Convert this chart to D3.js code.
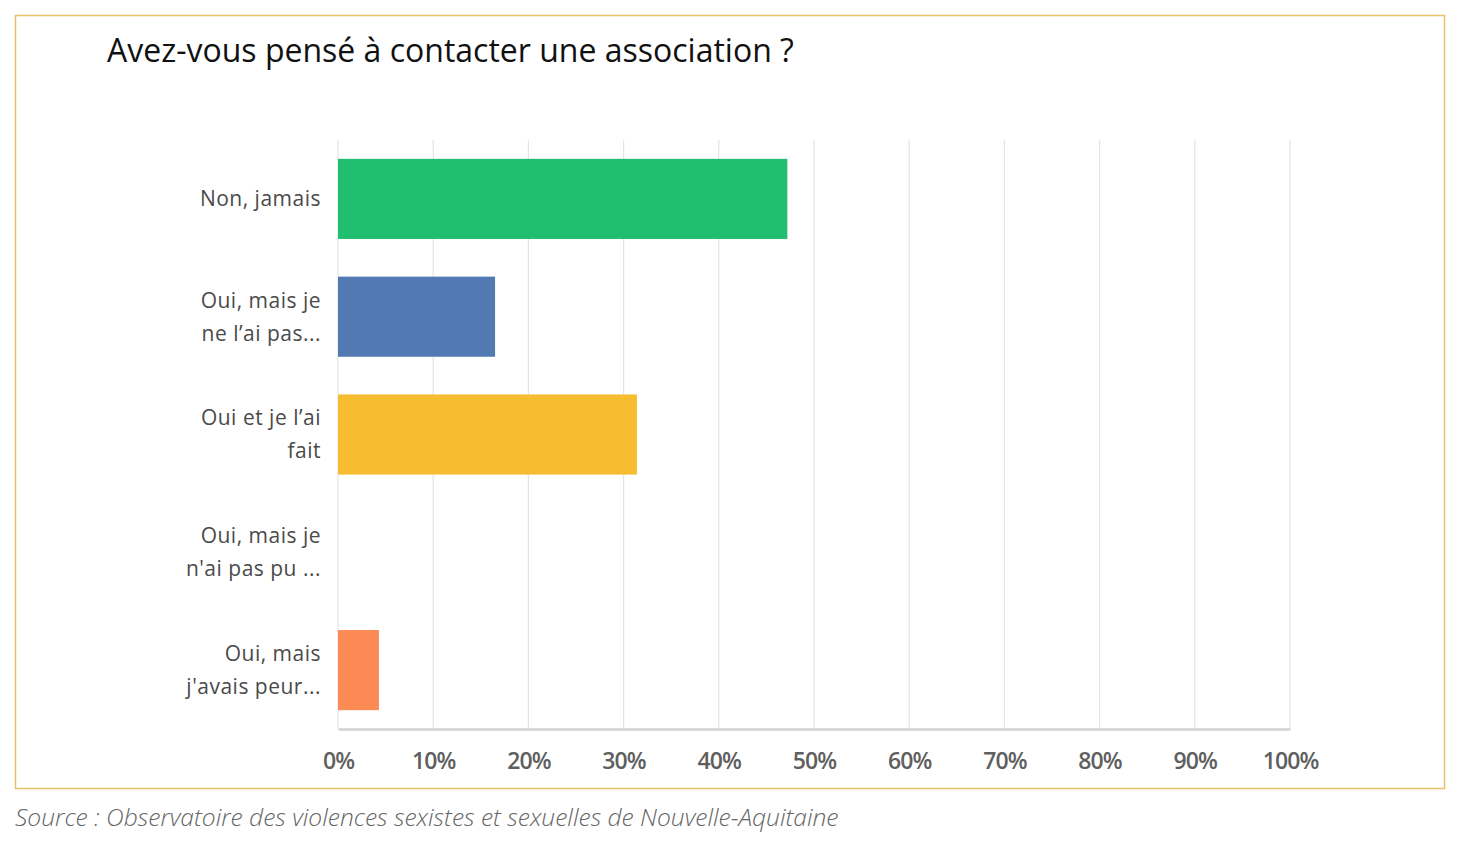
<!DOCTYPE html>
<meta charset="utf-8">
<script src="https://d3js.org/d3.v7.min.js"></script>
<style>
  body { margin: 0; background: #fff; }
</style>
<div id="my_dataviz"></div>
<script>

    // data
    var categories = ["Non, jamais", "Oui, mais je ne l'ai pas", "Oui et je l'ai fait", "Oui, mais je n'ai pas pu", "Oui, mais j'avais peur"];
    var labelLines = [["Non, jamais"], ["Oui, mais je", "ne l’ai pas..."], ["Oui et je l’ai", "fait"], ["Oui, mais je", "n'ai pas pu ..."], ["Oui, mais", "j'avais peur..."]];
    var values = [47.2, 16.5, 31.4, 0, 4.3];
    var barColors = ["#20bf70", "#517ab3", "#f5bd2f", "#fb8a53", "#fc8a54"];
    var ticks = [0, 10, 20, 30, 40, 50, 60, 70, 80, 90, 100];

    var W = 1461, H = 864;
    var margin = {top: 140, right: 171, bottom: 135, left: 338},
        width = W - margin.left - margin.right,
        height = H - margin.top - margin.bottom;

    var svg = d3.select("#my_dataviz")
      .append("svg")
        .attr("width", W)
        .attr("height", H);

    // frame
    svg.append("rect")
      .attr("x", 15.5).attr("y", 15.5)
      .attr("width", 1429).attr("height", 773)
      .attr("fill", "none")
      .attr("stroke", "#e6c36b")
      .attr("stroke-width", 1.5);

    svg.append("text")
      .attr("x", 107).attr("y", 62)
      .attr("font-family", "Open Sans, sans-serif")
      .attr("font-size", 32)
      .attr("fill", "#111")
      .text("Avez-vous pensé à contacter une association ?");

    svg.append("text")
      .attr("x", 15).attr("y", 826)
      .attr("font-family", "Open Sans, sans-serif")
      .attr("font-style", "italic")
      .attr("font-weight", 300)
      .attr("font-size", 24.6)
      .attr("fill", "#666")
      .text("Source : Observatoire des violences sexistes et sexuelles de Nouvelle-Aquitaine");

    var g = svg.append("g")
        .attr("transform", "translate(" + margin.left + "," + margin.top + ")");

    var x = d3.scaleLinear()
      .domain([0, 100])
      .range([0, width]);

    var y = d3.scaleBand()
      .domain(categories)
      .range([0, height])
      .paddingInner(0.32)
      .paddingOuter(0.16);

    // grid
    g.append("g")
      .selectAll("line")
      .data(ticks)
      .enter()
      .append("line")
        .attr("x1", function (d) { return x(d); })
        .attr("x2", function (d) { return x(d); })
        .attr("y1", 0)
        .attr("y2", height)
        .attr("stroke", "#e4e4e4")
        .attr("stroke-width", 1.2);

    // x axis
    var xAxis = g.append("g")
      .attr("transform", "translate(0," + height + ")")
      .call(d3.axisBottom(x).tickValues(ticks).tickSize(0).tickPadding(24)
        .tickFormat(function (d) { return d + "%"; }));
    xAxis.select(".domain").attr("stroke", "#d2d2d2").attr("stroke-width", 2.5);
    xAxis.selectAll("text")
      .attr("font-family", "Open Sans, sans-serif")
      .attr("font-size", 23)
      .attr("font-weight", 600)
      .attr("fill", "#5f5f5f")
      .attr("letter-spacing", -0.9);

    // bars
    g.append("g")
      .selectAll("rect")
      .data(values)
      .enter()
      .append("rect")
        .attr("x", 0)
        .attr("y", function (d, i) { return y(categories[i]); })
        .attr("width", function (d) { return x(d); })
        .attr("height", y.bandwidth())
        .attr("fill", function (d, i) { return barColors[i]; });

    // category labels
    var lab = g.append("g")
      .selectAll("text")
      .data(labelLines)
      .enter()
      .append("text")
        .attr("text-anchor", "end")
        .attr("font-family", "Open Sans, sans-serif")
        .attr("font-size", 21)
        .attr("font-weight", 500)
        .attr("letter-spacing", 0.5)
        .attr("fill", "#4a4a4a")
        .attr("transform", function (d, i) {
          return "translate(-17," + (y(categories[i]) + y.bandwidth() / 2) + ")";
        });

    lab.selectAll("tspan")
      .data(function (d) { return d.map(function (t, j) { return {t: t, j: j, n: d.length}; }); })
      .enter()
      .append("tspan")
        .attr("x", 0)
        .attr("y", function (d) { return (d.j - (d.n - 1) / 2) * 33; })
        .attr("dy", "0.35em")
        .text(function (d) { return d.t; });

</script>
